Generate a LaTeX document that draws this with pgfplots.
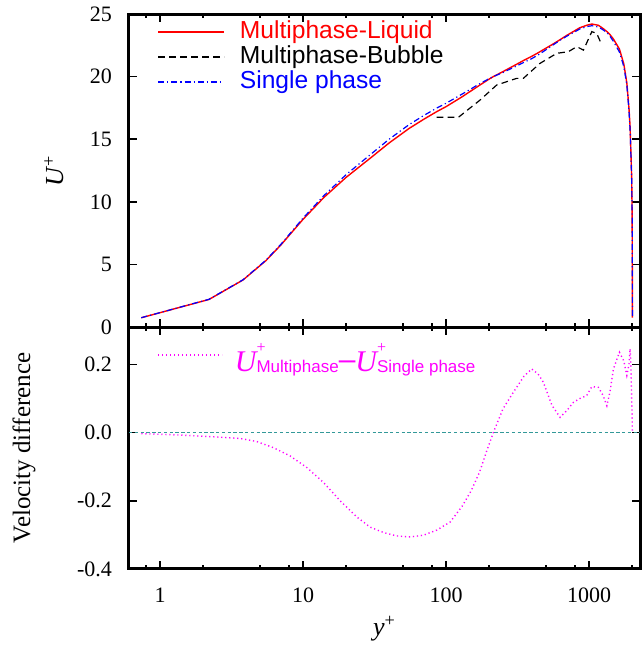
\documentclass[border=0pt]{standalone}
\usepackage{fontspec}
\setmainfont{Liberation Serif}
\setsansfont{Liberation Sans}
\usepackage{pgfplots}
\pgfplotsset{compat=1.18}
\usepackage{pgfplotstable}

\pgfplotstableread{
y Ul Us
0.74 0.74 0.743
2.2 2.2 2.211
3.8 3.75 3.768
5.5 5.30 5.335
7.0 6.55 6.605
10 8.60 8.694
14 10.35 10.497
20 11.95 12.167
30 13.55 13.828
40 14.70 14.998
55 15.85 16.156
70 16.60 16.90
86 17.20 17.486
100 17.60 17.87
130 18.40 18.615
171 19.30 19.417
200 19.80 19.835
214 20.00 20.00
250 20.40 20.33
296 20.85 20.731
350 21.30 21.135
397 21.62 21.433
440 21.90 21.728
479 22.15 22.002
550 22.55 22.47
627 22.95 22.905
700 23.30 23.235
777 23.60 23.511
860 23.90 23.80
963 24.10 23.991
1045 24.20 24.065
1160 24.10 23.967
1250 23.85 23.74
1331 23.60 23.521
1400 23.35 23.23
1480 23.00 22.813
1630 22.20 21.964
1750 21.00 20.79
1836 19.50 19.332
1900 17.50 17.30
1935 16.00 15.754
1960 14.0 13.8
1985 12.0 11.9
2000 9.0 8.95
2004.5 5.3 5.28
2006.2 3.75 3.74
2007.8 2.2 2.195
2009.3 0.74 0.74
}\profile

\pgfplotstableread{
y Ub
86 16.75
122 16.75
173 18.13
226 19.33
312 19.86
347 19.86
454 21.06
594 21.86
717 21.99
820 22.39
913 22.12
1045 23.59
1130 23.46
1228 22.52
}\bubble

\pgfplotstableread{
y v
0.74 -0.003
1.38 -0.007
2.36 -0.012
3.63 -0.017
4.74 -0.026
6.2 -0.044
8.1 -0.068
10.6 -0.102
13.9 -0.146
18.1 -0.199
23.7 -0.247
29.4 -0.277
36.5 -0.293
45.2 -0.303
56 -0.306
69.4 -0.301
86 -0.286
107 -0.262
130 -0.215
150 -0.17
171 -0.117
192 -0.055
214 0.000
250 0.070
296 0.119
350 0.165
397 0.187
440 0.172
479 0.148
550 0.080
627 0.045
700 0.065
777 0.089
860 0.100
963 0.109
1045 0.135
1160 0.133
1250 0.110
1331 0.079
1400 0.120
1480 0.187
1630 0.236
1750 0.210
1836 0.168
1900 0.200
1935 0.246
1960 0.20
1985 0.10
2000 0.05
2004.5 0.02
2006.2 0.01
2007.8 0.005
2009.3 0.0
}\diff

\definecolor{zeroline}{rgb}{0.2,0.6,0.6}
\definecolor{mag}{rgb}{1,0,1}
\definecolor{pred}{rgb}{1,0,0}
\definecolor{pblue}{rgb}{0,0,1}

\newcommand{\Uterm}[1]{{\fontsize{15}{15}\selectfont\rmfamily\itshape U}\rlap{\raisebox{9.6pt}{\fontsize{8}{8}\selectfont\rmfamily +}}\raisebox{-0.3pt}{\fontsize{8.5}{8.5}\selectfont\sffamily #1}}

\begin{document}
\begin{tikzpicture}
\begin{axis}[name=top,
  scale only axis, width=255.5pt, height=156.5pt,
  xmode=log, xmin=0.607, xmax=2270,
  tick align=inside, xtick pos=both, ytick pos=both,
  major tick length=4pt, minor tick length=2pt,
  every tick/.style={black, line width=0.8pt},
  axis line style={line width=1.5pt},
  xtick={1,10,100,1000},
  minor xtick={0.8,2,5,8,20,50,80,200,500,800,2000},
  xticklabels={},
  ymin=0, ymax=25, ytick={0,5,10,15,20,25},
  yticklabels={0,5,10,15,20,25},
  yticklabel style={font=\fontsize{11}{11}\selectfont, xshift=-5pt},
  ylabel={\fontsize{13}{13}\selectfont\textit{U}\textsuperscript{+}},
  ylabel style={at={(axis description cs:-0.147,0.5)}, anchor=center},
  legend cell align=left,
  legend style={at={(axis description cs:0.055,0.8626)}, anchor=west,
    draw=none, fill=none, inner sep=0pt, row sep=1pt, column sep=7.5pt,
    font=\sffamily\fontsize{12.3}{12.3}\selectfont,
    nodes={inner sep=0pt, text height=9pt, text depth=2.5pt}},
  legend image code/.code={\draw[#1] (0pt,0pt) -- (33pt,0pt);},
]
\addplot[pred, line width=0.7pt] table[x=y, y=Ul] {\profile};
\addlegendentry{\textcolor{pred}{Multiphase-Liquid}}
\addplot[black, line width=0.6pt, dash pattern=on 3.3pt off 2.2pt] table[x=y, y=Ub] {\bubble};
\addlegendentry{\textcolor{black}{Multiphase-Bubble}}
\addplot[pblue, line width=0.6pt, dash pattern=on 3pt off 1.5pt on 0.6pt off 1.5pt] table[x=y, y=Us] {\profile};
\addlegendentry{\textcolor{pblue}{Single phase}}
\end{axis}

\begin{axis}[at={([yshift=-2.5pt]top.south west)}, anchor=north west,
  scale only axis, width=255.5pt, height=121pt,
  xmode=log, xmin=0.607, xmax=2270,
  tick align=inside, xtick pos=both, ytick pos=both,
  major tick length=4pt, minor tick length=2pt,
  every tick/.style={black, line width=0.8pt},
  axis line style={line width=1.5pt},
  xtick={1,10,100,1000},
  minor xtick={0.8,2,5,8,20,50,80,200,500,800,2000},
  xticklabels={1,10,100,1000},
  xticklabel style={font=\fontsize{11}{11}\selectfont, yshift=-6pt},
  ymin=-0.4, ymax=0.31,
  ytick={-0.4,-0.2,0,0.2}, yticklabels={-0.4,-0.2,0.0,0.2},
  yticklabel style={font=\fontsize{11}{11}\selectfont, xshift=-5pt},
  xlabel={\fontsize{13}{13}\selectfont\textit{y}\textsuperscript{+}},
  ylabel={\fontsize{12.5}{12.5}\selectfont Velocity difference},
  ylabel style={at={(axis description cs:-0.2055,0.5)}, anchor=center},
  legend cell align=left,
  legend style={at={(axis description cs:0.055,0.885)}, anchor=west,
    draw=none, fill=none, inner sep=0pt, column sep=6pt,
    nodes={inner sep=0pt}},
  legend image code/.code={\draw[#1] (0pt,0pt) -- (32pt,0pt);},
]
\addplot[mag, line width=0.7pt, dash pattern=on 0.6pt off 1.4pt] table[x=y, y=v] {\diff};
\addlegendentry{\raisebox{-4pt}{\textcolor{mag}{\Uterm{Multiphase}{\sffamily\fontsize{15}{15}\selectfont\raisebox{0.15ex}{\textendash}}\Uterm{Single phase}}}}
\addplot[zeroline, line width=0.6pt, dash pattern=on 1.7pt off 1.2pt] coordinates {(0.607,0) (2270,0)};
\end{axis}

\pgfresetboundingbox
\path[use as bounding box] ([xshift=-64.5pt,yshift=7pt]top.north west) rectangle ++(322pt,-327.5pt);
\end{tikzpicture}
\end{document}
